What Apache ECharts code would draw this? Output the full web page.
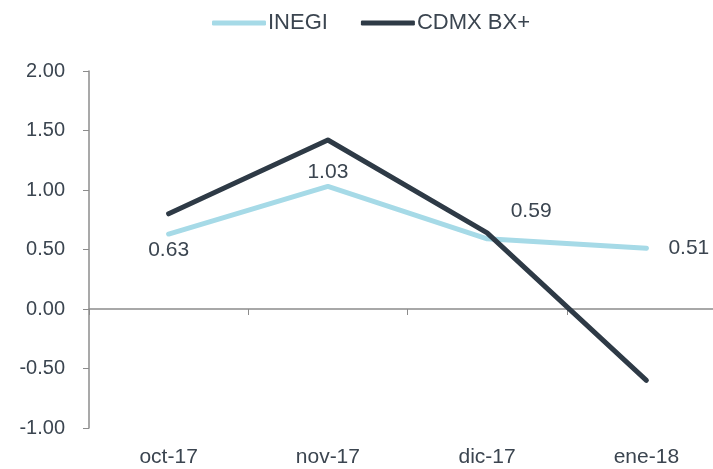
<!DOCTYPE html>
<html>
<head>
<meta charset="utf-8">
<script src="https://cdn.jsdelivr.net/npm/echarts@6/dist/echarts.min.js"></script>
<style>
  html, body { margin: 0; padding: 0; background: #fff; }
  #chart { width: 713px; height: 469px; }
</style>
</head>
<body>
<div id="chart"></div>
<script>
// categorías y valores
var meses = ['oct-17', 'nov-17', 'dic-17', 'ene-18'];
var inegi = [0.63, 1.03, 0.59, 0.51];
var cdmx = [0.80, 1.42, 0.64, -0.60];

var txt = '#3b4550',
    eje = '#8c8c8c',
    fuente = '"Liberation Sans", Arial, sans-serif';

// posición de cada etiqueta de INEGI
var posiciones = [
    {position: 'bottom', distance: 4},
    {position: 'top', distance: 2},
    {position: 'top', distance: 5, offset: [44, -10]},
    {position: 'right', distance: 20}
];

var chart = echarts.init(document.getElementById('chart'));
chart.setOption({
    animation: false,
    textStyle: {fontFamily: fuente},
    legend: {
        left: 207,
        top: 7,
        itemWidth: 54,
        itemHeight: 5,
        itemGap: 33,
        icon: 'roundRect',
        textStyle: {fontSize: 22, color: txt, fontFamily: fuente, padding: [0, 0, 0, -3]},
        data: ['INEGI', 'CDMX BX+']
    },
    grid: {left: 89, width: 637, top: 71, bottom: 41, outerBoundsMode: 'none', containLabel: false},
    xAxis: [
        {
            type: 'category',
            data: meses,
            axisLine: {onZero: true, lineStyle: {color: eje, width: 1.5}},
            axisTick: {show: true, length: 6, lineStyle: {color: eje}},
            axisLabel: {show: false},
            splitLine: {show: false}
        },
        {
            type: 'category',
            data: meses,
            position: 'bottom',
            axisLine: {show: false, onZero: false},
            axisTick: {show: false},
            axisLabel: {fontSize: 21, color: txt, margin: 19, fontFamily: fuente},
            splitLine: {show: false}
        }
    ],
    yAxis: {
        type: 'value',
        min: -1,
        max: 2,
        interval: 0.5,
        axisLine: {show: true, lineStyle: {color: eje, width: 1.5}},
        axisTick: {show: true, length: 6, lineStyle: {color: eje}},
        axisLabel: {
            fontSize: 20,
            color: txt,
            margin: 24,
            fontFamily: fuente,
            formatter: function(v) { return v.toFixed(2); }
        },
        splitLine: {show: false}
    },
    series: [
        {
            name: 'INEGI',
            type: 'line',
            xAxisIndex: 0,
            data: inegi.map(function(v, i) {
                return {value: v, label: posiciones[i]};
            }),
            symbol: 'circle',
            symbolSize: 4,
            showSymbol: true,
            color: '#a6dae7',
            lineStyle: {width: 5, cap: 'round', join: 'round'},
            label: {
                show: true,
                fontSize: 21,
                color: txt,
                fontFamily: fuente,
                formatter: function(p) { return p.value.toFixed(2); }
            },
            z: 2
        },
        {
            name: 'CDMX BX+',
            type: 'line',
            xAxisIndex: 0,
            data: cdmx,
            symbol: 'none',
            color: '#2e3a46',
            lineStyle: {width: 5, cap: 'round', join: 'round'},
            z: 3
        }
    ]
});
</script>
</body>
</html>
